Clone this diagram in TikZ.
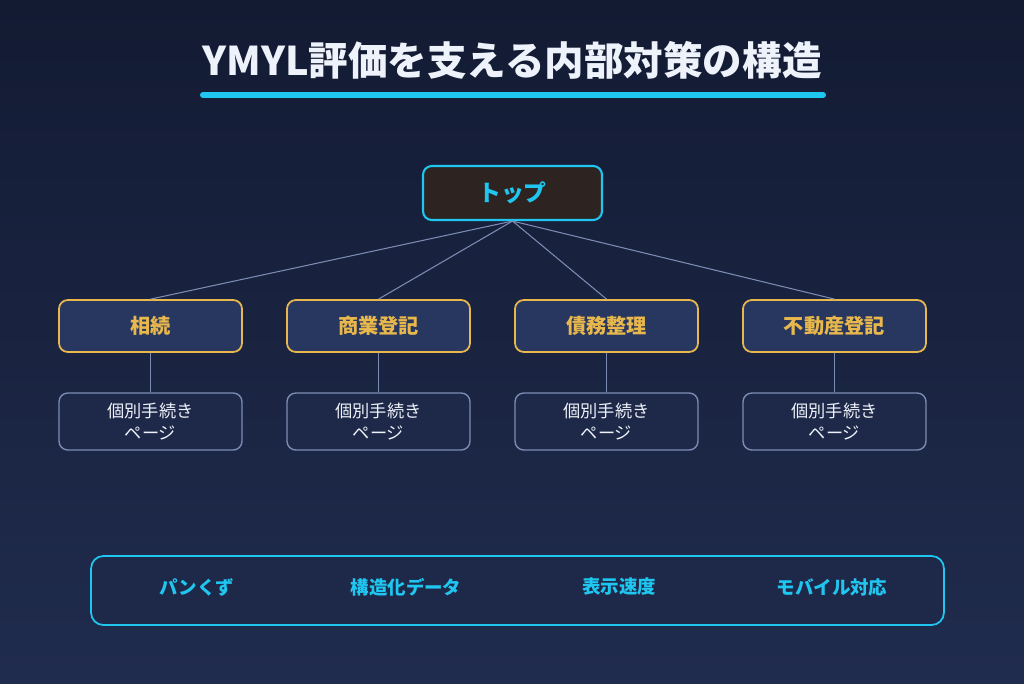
\documentclass[tikz,border=0pt]{standalone}
\usepackage{fontspec}
\setmainfont{Noto Sans CJK JP}
\tikzset{
    > = latex
}
\definecolor{bgtop}{HTML}{131B33}
\definecolor{bgbot}{HTML}{202C4E}
\definecolor{cyanline}{HTML}{1EC6F0}
\definecolor{gold}{HTML}{E9B84C}
\definecolor{catfill}{HTML}{28375F}
\definecolor{subfill}{HTML}{1E2949}
\definecolor{subline}{HTML}{7D8CB4}
\definecolor{topfill}{HTML}{2D2320}
\definecolor{titlecol}{HTML}{EEF2FA}
\begin{document}
\begin{tikzpicture}[x=0.02cm, y=-0.02cm, line width=.6]
        \tikzstyle{topbox}=[draw=cyanline, fill=topfill, line width=1.2pt, rounded corners=5pt, minimum width=3.58cm, minimum height=1.08cm, text=cyanline, font=\fontsize{13}{15}\selectfont\bfseries]
        \tikzstyle{catbox}=[draw=gold, fill=catfill, line width=1pt, rounded corners=5pt, minimum width=3.66cm, minimum height=1.04cm, text=gold, font=\fontsize{11.5}{14}\selectfont\bfseries]
        \tikzstyle{subbox}=[draw=subline, fill=subfill, line width=.8pt, rounded corners=5pt, minimum width=3.66cm, minimum height=1.14cm, text=titlecol, align=center, font=\fontsize{9.8}{12.5}\selectfont]
        \tikzstyle{link}=[draw=subline, line width=.6pt]
        \tikzstyle{item}=[text=cyanline, font=\fontsize{10.5}{13}\selectfont\bfseries]
        \useasboundingbox (0,0) rectangle (1024,683);
        \shade[top color=bgtop, bottom color=bgbot] (0,0) rectangle (1024,683);
        \node[text=titlecol, font=\fontsize{22.5}{27}\selectfont\bfseries] (title) at (512,60) {YMYL評価を支える内部対策の構造};
        \coordinate (ulA) at (203,95);
        \coordinate (ulB) at (823,95);
        \draw[cyanline, line width=3.4pt, line cap=round] (ulA) -- (ulB);
        \node[topbox] (top) at (512.5,193) {トップ};
        \foreach \name/\label/\x in {souzoku/相続/150.5, shogyo/商業登記/378.5, saimu/債務整理/606.5, fudosan/不動産登記/834.5} {
            \node[catbox] (\name) at (\x,326) {\label};
            \node[subbox] (\name-page) at (\x,421.5) {個別手続き\\ページ};
            \draw[link] (top.south) -- (\name.north);
            \draw[link] (\name.south) -- (\name-page.north);
        }
        \node[draw=cyanline, fill=subfill, line width=1pt, rounded corners=7pt, minimum width=17.06cm, minimum height=1.38cm] (bar) at (517.5,590.5) {};
        \node[item] (pankuzu) at (197,587) {パンくず};
        \node[item] (kozoka) at (406,587) {構造化データ};
        \node[item] (sokudo) at (619,587) {表示速度};
        \node[item] (mobile) at (832,587) {モバイル対応};
    \end{tikzpicture}
\end{document}
